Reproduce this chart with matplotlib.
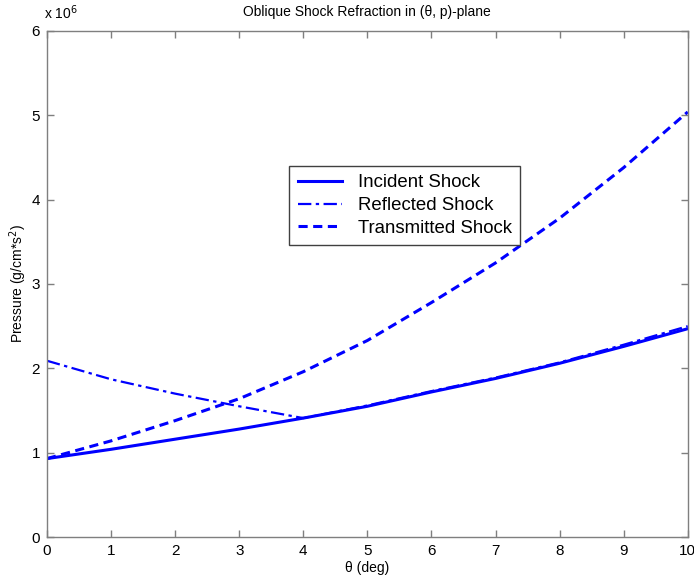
import matplotlib
matplotlib.use("Agg")
import matplotlib.pyplot as plt
from matplotlib.ticker import FuncFormatter

plt.rcParams['font.family'] = ['Liberation Sans', 'DejaVu Sans']

# Flow deflection angle (deg)
theta = [0, 1, 2, 3, 4, 5, 6, 7, 8, 9, 10]

# Pressures in units of 1e6 g/(cm*s^2)
p_incident = [0.93, 1.04, 1.16, 1.28, 1.41, 1.55, 1.72, 1.88, 2.06, 2.26, 2.47]
p_reflected = [2.09, 1.87, 1.70, 1.55, 1.41, 1.56, 1.73, 1.89, 2.07, 2.28, 2.50]
p_transmitted = [0.93, 1.14, 1.38, 1.64, 1.96, 2.33, 2.78, 3.25, 3.78, 4.38, 5.04]

scale = 1e6
blue = '#0000ff'
gray = '#7f7f7f'

fig = plt.figure(figsize=(6.94, 5.80), dpi=100)
ax = fig.add_axes([0.0677, 0.0741, 0.9233, 0.8725])

ax.plot(theta, [v * scale for v in p_incident], '-', color=blue, lw=2.2,
        label='Incident Shock')
ax.plot(theta, [v * scale for v in p_reflected], '-.', color=blue, lw=1.6,
        dashes=(6, 2, 1.5, 2), label='Reflected Shock')
ax.plot(theta, [v * scale for v in p_transmitted], '--', color=blue, lw=2.2,
        dashes=(3, 1.8), label='Transmitted Shock')

ax.set_xlim(0, 10)
ax.set_ylim(0, 6e6)
ax.set_xticks(range(0, 11))
ax.set_yticks([i * 1e6 for i in range(0, 7)])
ax.yaxis.set_major_formatter(FuncFormatter(lambda v, pos: f"{v / scale:g}"))

for s in ax.spines.values():
    s.set_color(gray)
    s.set_linewidth(1.0)
ax.tick_params(direction='in', length=5, width=1.0, color=gray,
               labelsize=11, top=True, right=True, pad=5)

ax.set_xlabel('θ (deg)', fontsize=10, labelpad=2)
ax.set_ylabel('Pressure (g/cm*s$^2$)', fontsize=10, labelpad=2)
ax.set_title('Oblique Shock Refraction in (θ, p)-plane', fontsize=10, pad=11)

fig.text(0.0635, 0.962, 'x 10$^{6}$', fontsize=10, ha='left', va='bottom')

leg = ax.legend(loc='upper left', bbox_to_anchor=(0.3780, 0.733), fontsize=13.4,
                frameon=True, fancybox=False, framealpha=1, edgecolor='#404040',
                handlelength=2.4, handletextpad=0.85, borderpad=0.45,
                labelspacing=0.3, borderaxespad=0)
leg.get_frame().set_linewidth(1.0)

fig.savefig('out.png', dpi=100)
